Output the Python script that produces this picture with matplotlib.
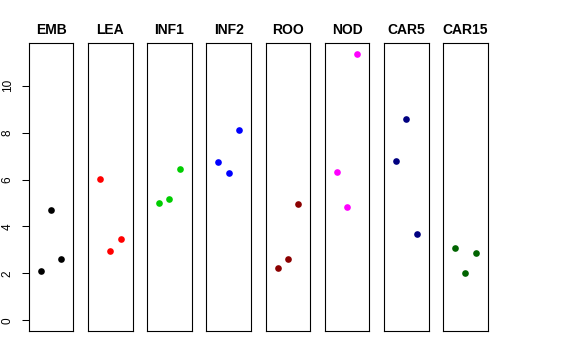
import matplotlib
matplotlib.use("Agg")
import matplotlib.pyplot as plt

categories = ["EMB", "LEA", "INF1", "INF2", "ROO", "NOD", "CAR5", "CAR15"]
colors = ["#000000", "#FF0000", "#00CD00", "#0000FF", "#8B0000", "#FF00FF", "#000080", "#006400"]
values = {
    "EMB":   [2.09, 4.71, 2.61],
    "LEA":   [6.01, 2.97, 3.46],
    "INF1":  [5.00, 5.18, 6.43],
    "INF2":  [6.73, 6.28, 8.11],
    "ROO":   [2.22, 2.63, 4.97],
    "NOD":   [6.31, 4.83, 11.35],
    "CAR5":  [6.80, 8.58, 3.69],
    "CAR15": [3.10, 2.02, 2.85],
}
xpos = [1, 2, 3]
yticks = [0, 2, 4, 6, 8, 10]

plt.rcParams['font.family'] = ['Liberation Sans', 'DejaVu Sans']

W, H = 576, 360
fig = plt.figure(figsize=(W / 100, H / 100), dpi=100)

ymax = max(max(v) for v in values.values())
ylo, yhi = -0.04 * ymax, 1.04 * ymax

left0 = 28.7
step = 59.2
pw = 44.7
top_px, bot_px = 43.3, 331.0

for i, (cat, col) in enumerate(zip(categories, colors)):
    l = left0 + i * step
    ax = fig.add_axes([l / W, (H - bot_px) / H, pw / W, (bot_px - top_px) / H])
    ax.plot(xpos, values[cat], 'o', color=col, markersize=4.8, markeredgewidth=0)
    ax.set_xlim(2 - 2.17, 2 + 2.17)
    ax.set_ylim(ylo, yhi)
    ax.set_xticks([])
    for s in ax.spines.values():
        s.set_linewidth(0.8)
        s.set_color('black')
    ax.set_title(cat, fontsize=10, fontweight='bold', pad=6.7)
    if i == 0:
        ax.set_yticks(yticks)
        ax.set_yticklabels([str(t) for t in yticks], rotation=90, va='center', fontsize=8.5)
        ax.tick_params(axis='y', length=5.2, width=0.75, pad=5.5)
    else:
        ax.set_yticks([])

fig.savefig("out.png", dpi=100)
